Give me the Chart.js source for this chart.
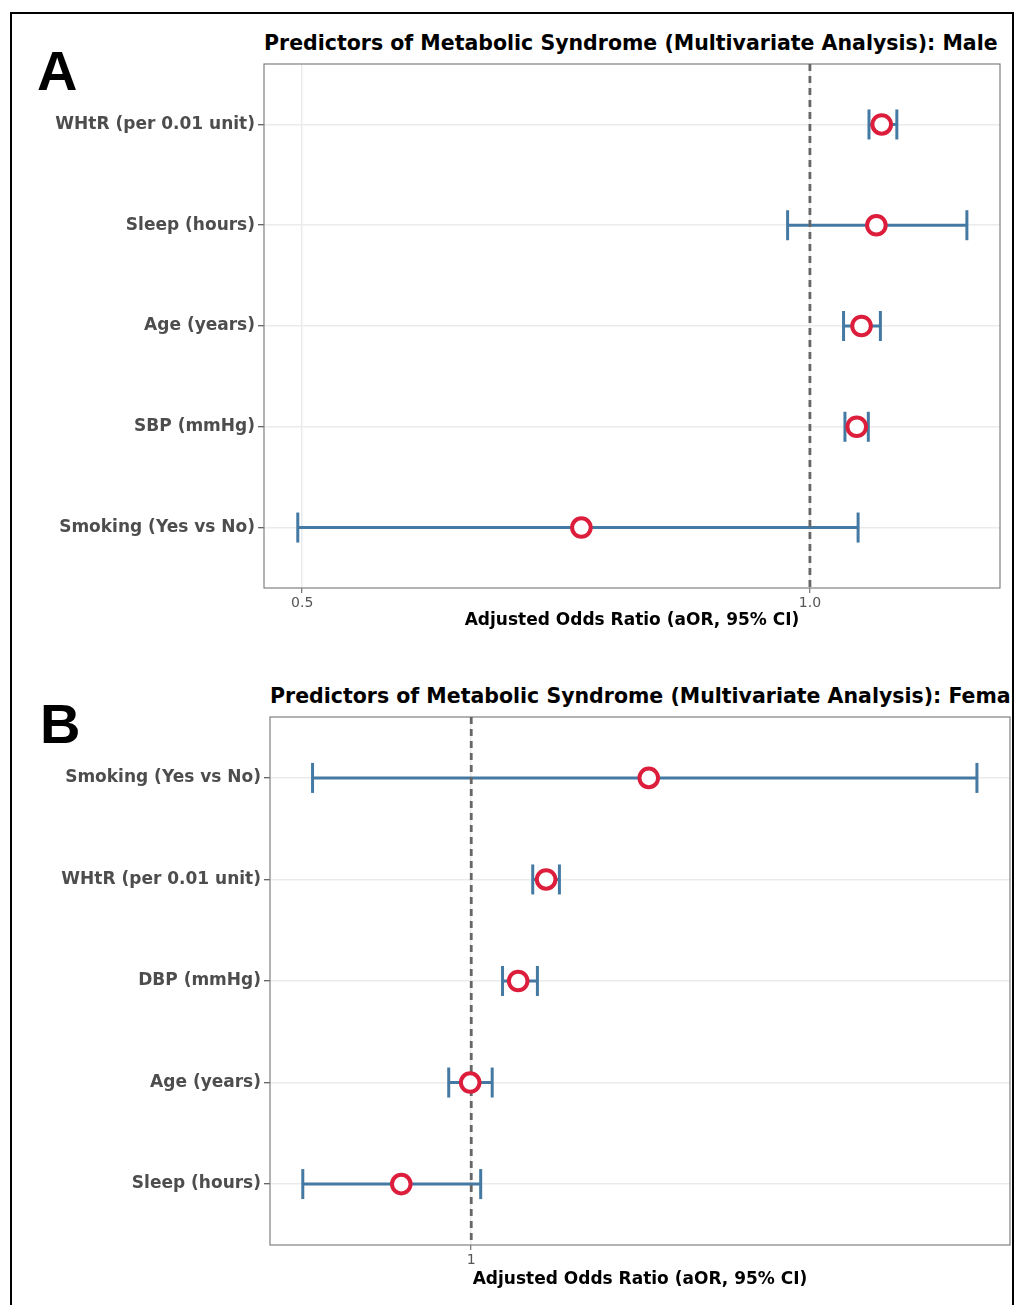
<!DOCTYPE html>
<html>
<head>
<meta charset="utf-8">
<script src="https://cdn.jsdelivr.net/npm/chart.js@4.4.1/dist/chart.umd.min.js"></script>
<style>
  body { margin: 0; background: #fff; width: 1017px; height: 1305px; position: relative; overflow: hidden; }
  #frame { position: absolute; left: 10px; top: 12px; width: 1000px; height: 1300px; border: 2px solid #000; border-bottom: none; }
  #clip { position: absolute; left: 0; top: 0; width: 1012px; height: 1305px; overflow: hidden; }
  .panel { position: absolute; left: 0; }
  .tag { position: absolute; font: bold 56px "Liberation Sans", Arial, sans-serif; color: #000; line-height: 1; }
  .title { position: absolute; font: bold 20.5px "DejaVu Sans", sans-serif; line-height: 24px; color: #000; white-space: nowrap; }
</style>
</head>
<body>
<div id="clip">
  <div class="tag" style="left:37px;top:43px">A</div>
  <div class="tag" style="left:40px;top:696px">B</div>
  <div class="title" style="left:264px;top:31px">Predictors of Metabolic Syndrome (Multivariate Analysis): Male</div>
  <div class="title" style="left:270px;top:684px">Predictors of Metabolic Syndrome (Multivariate Analysis): Female</div>
  <div class="panel" style="top:0;width:1017px;height:631px"><canvas id="maleChart"></canvas></div>
  <div class="panel" style="top:653px;width:1012px;height:637px"><canvas id="femaleChart"></canvas></div>
</div>
<div id="frame"></div>
<script>
// Male panel (top to bottom)
const maleLabels = ['WHtR (per 0.01 unit)', 'Sleep (hours)', 'Age (years)', 'SBP (mmHg)', 'Smoking (Yes vs No)'];
const maleAOR  = [1.103, 1.095, 1.073, 1.066, 0.732];
const maleLow  = [1.084, 0.970, 1.047, 1.049, 0.497];
const maleHigh = [1.126, 1.239, 1.101, 1.083, 1.068];
const maleXTicks = [0.5, 1.0];
const maleXTickLabels = ['0.5', '1.0'];

// Female panel (top to bottom)
const femaleLabels = ['Smoking (Yes vs No)', 'WHtR (per 0.01 unit)', 'DBP (mmHg)', 'Age (years)', 'Sleep (hours)'];
const femaleAOR  = [1.98, 1.334, 1.198, 0.996, 0.764];
const femaleLow  = [0.543, 1.267, 1.128, 0.917, 0.523];
const femaleHigh = [7.0, 1.404, 1.290, 1.084, 1.037];
const femaleXTicks = [1];
const femaleXTickLabels = ['1'];

const FONT = '"DejaVu Sans", sans-serif';
Chart.defaults.font.family = FONT;

const RED = '#dc1e3c';
const BLUE = '#4479a3';

// grey box round the plot area
const plotBorder = {
  id: 'plotBorder',
  beforeDatasetsDraw(chart) {
    const a = chart.chartArea, c = chart.ctx;
    c.save();
    c.strokeStyle = '#808080';
    c.lineWidth = 1.2;
    c.strokeRect(a.left, a.top, a.right - a.left, a.bottom - a.top);
    c.restore();
  }
};

function noPad(s) {
  s.paddingLeft = s.paddingRight = s.paddingTop = s.paddingBottom = 0;
}

function makeForest(id, labels, aor, low, high, cfg) {
  const ciPts = [];
  labels.forEach((_, i) => {
    ciPts.push({ x: low[i], y: i }, { x: high[i], y: i }, { x: high[i], y: null }); // null breaks the line
  });
  const pts = labels.map((_, i) => ({ x: aor[i], y: i }));

  return new Chart(document.getElementById(id), {
    type: 'scatter',
    data: {
      datasets: [
        { // point estimates
          data: pts,
          pointRadius: 9.3,
          pointBorderWidth: 4,
          pointBorderColor: RED,
          pointBackgroundColor: '#fff'
        },
        { // reference line at aOR = 1
          data: [{ x: 1, y: -0.6 }, { x: 1, y: 4.6 }],
          showLine: true,
          borderColor: '#666',
          borderWidth: 2.8,
          borderDash: [7, 5],
          pointRadius: 0
        },
        { // 95% CI with caps
          data: ciPts,
          showLine: true,
          spanGaps: false,
          borderColor: BLUE,
          borderWidth: 3,
          pointStyle: 'line',
          rotation: 90,
          pointRadius: 15,
          pointBorderWidth: 3,
          pointBorderColor: BLUE
        }
      ]
    },
    options: {
      animation: false,
      responsive: true,
      maintainAspectRatio: false,
      events: [],
      layout: { padding: cfg.padding, autoPadding: false },
      plugins: {
        legend: { display: false },
        tooltip: { enabled: false },
        title: { display: false }
      },
      scales: {
        x: {
          type: 'logarithmic',
          min: cfg.xMin,
          max: cfg.xMax,
          afterBuildTicks: s => { s.ticks = cfg.xTicks.map(v => ({ value: v })); },
          afterFit: s => { s.height = cfg.xHeight; noPad(s); },
          ticks: {
            callback: (v, i) => cfg.xTickLabels[i],
            color: '#555',
            font: { family: FONT, size: 14 },
            padding: 2,
            maxRotation: 0,
            autoSkip: false
          },
          grid: { color: '#ebebeb', lineWidth: 1.5, tickColor: '#555', tickLength: 5, tickWidth: 1 },
          border: { display: false },
          title: {
            display: true,
            text: 'Adjusted Odds Ratio (aOR, 95% CI)',
            color: '#000',
            font: { family: FONT, size: 17, weight: 'bold' },
            padding: { top: 0, bottom: 0 }
          }
        },
        y: {
          type: 'linear',
          reverse: true,
          min: -0.6,
          max: 4.6,
          afterBuildTicks: s => { s.ticks = labels.map((_, i) => ({ value: i })); },
          afterFit: s => { s.width = cfg.yWidth; noPad(s); },
          ticks: {
            callback: (v, i) => labels[i],
            color: '#4d4d4d',
            font: { family: FONT, size: 17, weight: 'bold' },
            padding: 3,
            autoSkip: false
          },
          grid: { color: '#ebebeb', lineWidth: 1.5, tickColor: '#333', tickLength: 6, tickWidth: 1 },
          border: { display: false }
        }
      }
    },
    plugins: [plotBorder]
  });
}

makeForest('maleChart', maleLabels, maleAOR, maleLow, maleHigh, {
  padding: { top: 64, left: 0, right: 17, bottom: 0 },
  xMin: 0.4746, xMax: 1.2963,
  xTicks: maleXTicks, xTickLabels: maleXTickLabels,
  xHeight: 43, yWidth: 264
});

makeForest('femaleChart', femaleLabels, femaleAOR, femaleLow, femaleHigh, {
  padding: { top: 64, left: 0, right: 2, bottom: 0 },
  xMin: 0.461, xMax: 7.95,
  xTicks: femaleXTicks, xTickLabels: femaleXTickLabels,
  xHeight: 45, yWidth: 270
});
</script>
</body>
</html>
